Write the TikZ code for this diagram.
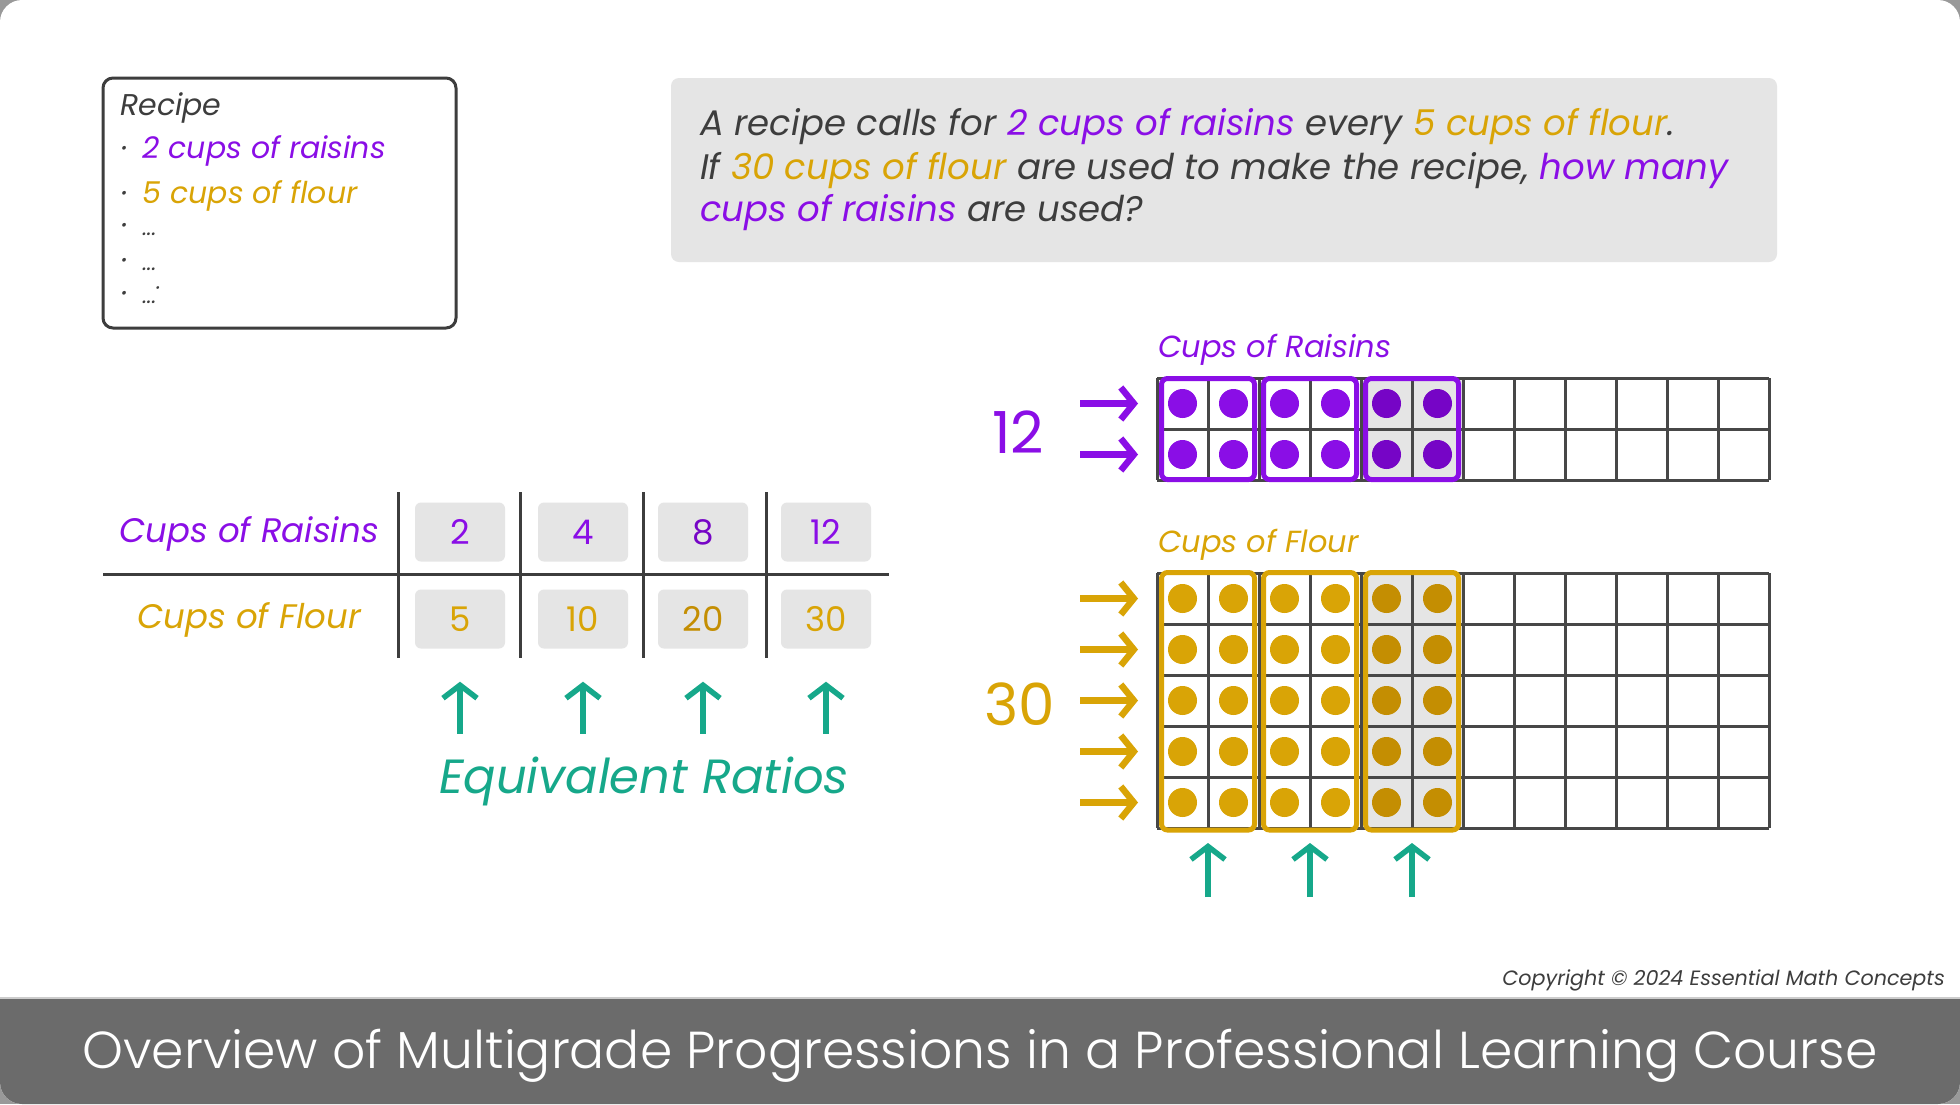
\documentclass[tikz,border=0pt]{standalone}
\usepackage{fontspec}
\setmainfont{Poppins}
\newfontfamily\lightfont{Poppins Light}
\usepackage{xcolor}
\usetikzlibrary{arrows.meta,positioning,calc}

\definecolor{raisin}{HTML}{8A0EE6}
\definecolor{raisindark}{HTML}{7605C6}
\definecolor{flour}{HTML}{D9A406}
\definecolor{flourdark}{HTML}{C48E02}
\definecolor{eqteal}{HTML}{16A88A}
\definecolor{inkgray}{HTML}{3D3D3D}
\definecolor{boxgray}{HTML}{E5E5E5}
\definecolor{gridgray}{HTML}{474747}
\definecolor{bargray}{HTML}{6B6B6B}
\newcommand{\fsz}[1]{\fontsize{#1}{#1}\selectfont}

\begin{document}
\begin{tikzpicture}[x=1pt, y=-1pt,
    valbox/.style={fill=boxgray, rounded corners=6pt, minimum width=90pt, minimum height=59pt, inner sep=0pt, font=\fsz{34}},
    tablerule/.style={draw=inkgray, line width=3pt},
    qline/.style={anchor=base west, inner sep=0pt, text=inkgray, font=\fsz{35.5}\itshape},
    recline/.style={anchor=base west, inner sep=0pt, text=inkgray, font=\fsz{30}\itshape},
    uparrow/.style={draw=eqteal, line width=5.5pt, -{Straight Barb[length=13pt,width=34pt]}},
    rowarrow/.style={line width=6.5pt, -{Straight Barb[length=13pt,width=32pt]}},
    gridline/.style={draw=gridgray, line width=3pt},
  ]
    \useasboundingbox (0,0) rectangle (1960,1104);

    % Frame and title bar
    \fill[black!40] (0,0) rectangle (1960,1104);
    \fill[white, rounded corners=22pt] (0,0) rectangle (1960,1104);
    \fill[bargray] (0,998) rectangle (1960,1060);
    \fill[bargray, rounded corners=22pt] (0,1030) rectangle (1960,1104);
    \draw[black!20, line width=2pt] (0,998) -- (1960,998);
    \node[anchor=base, inner sep=0pt, text=white, font=\lightfont\fsz{52}] (title) at (980,1068)
        {Overview of Multigrade Progressions in a Professional Learning Course};
    \node[anchor=base east, inner sep=0pt, text=inkgray, font=\fsz{20.7}\itshape] (copyright) at (1945,985)
        {Copyright © 2024 Essential Math Concepts};

    % Recipe card
    \draw[inkgray, line width=3pt, rounded corners=10pt] (103,78) rectangle (456,328);
    \node[recline] (rectitle) at (120,115) {Recipe};
    \node[recline] (recraisin) at (122,158) {·\hspace{14pt}\textcolor{raisin}{2 cups of raisins}};
    \node[recline] (recflour) at (122,203) {·\hspace{14pt}\textcolor{flour}{5 cups of flour}};
    \node[recline] (recdotsa) at (122,235) {·\hspace{14pt}{\fsz{22}...}};
    \node[recline] (recdotsb) at (122,270) {·\hspace{14pt}{\fsz{22}...}};
    \node[recline] (recdotsc) at (122,303) {·\hspace{14pt}{\fsz{22}...\raisebox{8pt}{·}}};

    % Word problem
    \fill[boxgray, rounded corners=8pt] (671,78) rectangle (1777,262);
    \node[qline] (qa) at (700,135)
        {A recipe calls for \textcolor{raisin}{2 cups of raisins} every \textcolor{flour}{5 cups of flour}.};
    \node[qline] (qb) at (700,179)
        {If \textcolor{flour}{30 cups of flour} are used to make the recipe, \textcolor{raisin}{how many}};
    \node[qline] (qc) at (700,221)
        {\textcolor{raisin}{cups of raisins} are used?};

    % Ratio table
    \node[text=raisin, font=\fsz{34}\itshape] (rowraisin) at (249,534) {Cups of Raisins};
    \node[text=flour, font=\fsz{34}\itshape] (rowflour) at (249,620) {Cups of Flour};
    \draw[tablerule] (103,574) -- (889,574);
    \foreach \x in {398,520,643,766}
        \draw[tablerule] (\x,492) -- (\x,658);

    \node[valbox, text=raisin] (r1) at (460,532) {2};
    \node[valbox, text=raisin] (r2) at (583,532) {4};
    \node[valbox, text=raisindark] (r3) at (703,532) {8};
    \node[valbox, text=raisin] (r4) at (826,532) {12};
    \node[valbox, text=flour] (f1) at (460,619) {5};
    \node[valbox, text=flour] (f2) at (583,619) {10};
    \node[valbox, text=flourdark] (f3) at (703,619) {20};
    \node[valbox, text=flour] (f4) at (826,619) {30};

    % Equivalent ratio arrows
    \foreach \c in {f1,f2,f3,f4}
        \draw[uparrow] ([yshift=-85pt]\c.south) -- ([yshift=-33pt]\c.south);
    \node[anchor=base, inner sep=0pt, text=eqteal, font=\fsz{48}\itshape] (eqlabel) at (644,793) {Equivalent Ratios};

    % Raisin grid (12 x 2)
    \node[anchor=base west, inner sep=0pt, text=raisin, font=\fsz{30.5}\itshape] (gridraisin) at (1158,357) {Cups of Raisins};
    \fill[boxgray] (1361,378) rectangle (1463,480);
    \foreach \i in {0,...,12}
        \draw[gridline] ({1157+51*\i},378) -- ({1157+51*\i},480);
    \foreach \j in {0,...,2}
        \draw[gridline] (1157,{378+51*\j}) -- (1769,{378+51*\j});
    \foreach \i in {0,...,5}
        \foreach \j in {0,1} {
            \pgfmathsetmacro{\dotcol}{\i>3 ? "raisindark" : "raisin"}
            \fill[\dotcol] ({1182.5+51*\i},{403.5+51*\j}) circle (14.5pt);
        }
    \foreach \g in {0,1,2}
        \draw[raisin, line width=5pt, rounded corners=6pt] ({1161.5+102*\g},378.5) rectangle ({1254.5+102*\g},479.5);
    \node[text=raisin, font=\fsz{58}] (numraisin) at (1018,432) {12};
    \foreach \j in {0,1}
        \draw[rowarrow, raisin] (1080,{403.5+51*\j}) -- (1138,{403.5+51*\j});

    % Flour grid (12 x 5)
    \node[anchor=base west, inner sep=0pt, text=flour, font=\fsz{30.5}\itshape] (gridflour) at (1158,552) {Cups of Flour};
    \fill[boxgray] (1361,573) rectangle (1463,828);
    \foreach \i in {0,...,12}
        \draw[gridline] ({1157+51*\i},573) -- ({1157+51*\i},828);
    \foreach \j in {0,...,5}
        \draw[gridline] (1157,{573+51*\j}) -- (1769,{573+51*\j});
    \foreach \i in {0,...,5}
        \foreach \j in {0,...,4} {
            \pgfmathsetmacro{\dotcol}{\i>3 ? "flourdark" : "flour"}
            \fill[\dotcol] ({1182.5+51*\i},{598.5+51*\j}) circle (14.5pt);
        }
    \foreach \g in {0,1,2}
        \draw[flour, line width=5pt, rounded corners=6pt] ({1161.5+102*\g},572.5) rectangle ({1254.5+102*\g},830);
    \node[text=flour, font=\fsz{58}] (numflour) at (1020,704) {30};
    \foreach \j in {0,...,4}
        \draw[rowarrow, flour] (1080,{598.5+51*\j}) -- (1138,{598.5+51*\j});
    \foreach \g in {0,1,2}
        \draw[uparrow] ({1208+102*\g},897) -- ({1208+102*\g},843);
\end{tikzpicture}
\end{document}
